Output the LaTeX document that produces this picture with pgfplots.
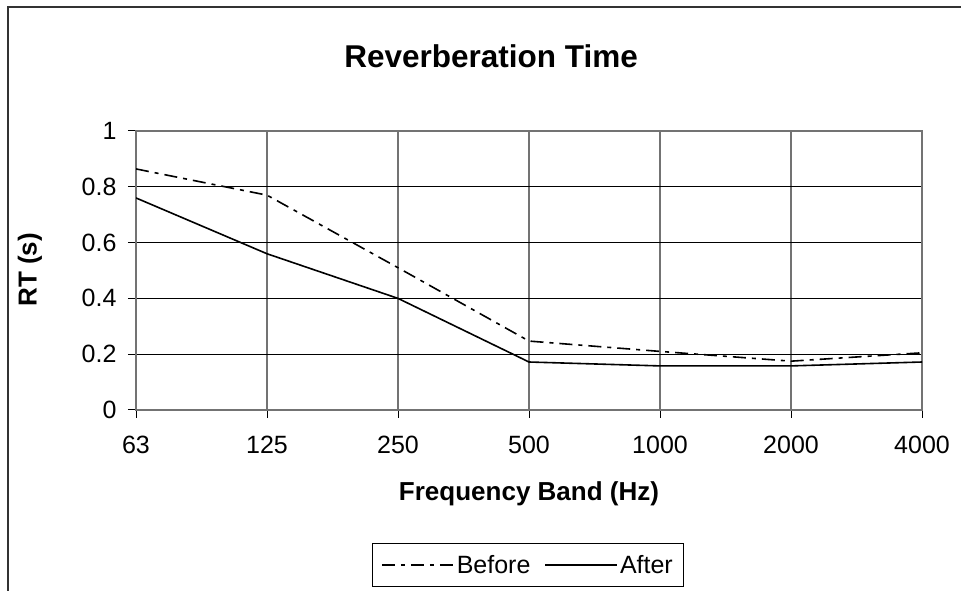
\documentclass[border=0pt]{standalone}
\usepackage{pgfplots}
\pgfplotsset{compat=1.18}
\usepackage{fontspec}
\setmainfont{Liberation Sans}

\begin{document}
\begin{tikzpicture}[x=1bp,y=1bp]
\clip (0,0) rectangle (961,591);
% chart area frame (only left and top edges are in view)
\draw[line width=1.5bp, black!80] (8,-20) -- (8,584) -- (990,584);
\begin{axis}[
  at={(136bp,181bp)}, anchor=south west,
  scale only axis, width=786bp, height=279bp,
  xmin=0, xmax=6, ymin=0, ymax=1,
  xtick={0,1,2,3,4,5,6},
  xticklabels={63,125,250,500,1000,2000,4000},
  ytick={0,0.2,0.4,0.6,0.8,1},
  xtick pos=bottom, ytick pos=left,
  /pgf/number format/assume math mode=true,
  ticklabel style={font=\fontsize{25bp}{28bp}\selectfont},
  xticklabel style={yshift=-15bp},
  yticklabel style={xshift=-8bp},
  tick align=outside, major tick length=8bp,
  major tick style={black, line width=1bp},
  axis line style={black!55, line width=1.2bp},
  xmajorgrids, ymajorgrids,
  x grid style={black!55, line width=1.2bp},
  y grid style={black, line width=0.9bp},
  title={Reverberation Time},
  title style={font=\bfseries\fontsize{31.5bp}{35bp}\selectfont, at={(0.4517,1.245)}, anchor=center},
  xlabel={Frequency Band (Hz)},
  xlabel style={font=\bfseries\fontsize{26bp}{30bp}\selectfont, at={(0.5,-0.3)}, anchor=center},
  ylabel={RT (s)},
  ylabel style={font=\bfseries\fontsize{26bp}{30bp}\selectfont, at={(-0.1349,0.502)}, anchor=center, rotate=0},
  legend columns=2,
  legend style={at={(0.4987,-0.5556)}, anchor=center, draw=black, line width=0.9bp,
    font=\fontsize{25bp}{28bp}\selectfont, inner xsep=9bp, inner ysep=10bp,
    /tikz/every even column/.append style={column sep=12bp}},
  legend image code/.code={\draw[#1] (0bp,0bp) -- (72bp,0bp);},
]
\addplot[black, line width=1.6bp, dash pattern=on 13bp off 6bp on 4bp off 6bp] coordinates {
  (0,0.864) (1,0.770) (2,0.510) (3,0.247) (4,0.210) (5,0.175) (6,0.205)
};
\addlegendentry{Before}
\addplot[black, line width=1.6bp] coordinates {
  (0,0.760) (1,0.560) (2,0.400) (3,0.172) (4,0.158) (5,0.158) (6,0.172)
};
\addlegendentry{After}
\end{axis}
\end{tikzpicture}
\end{document}
